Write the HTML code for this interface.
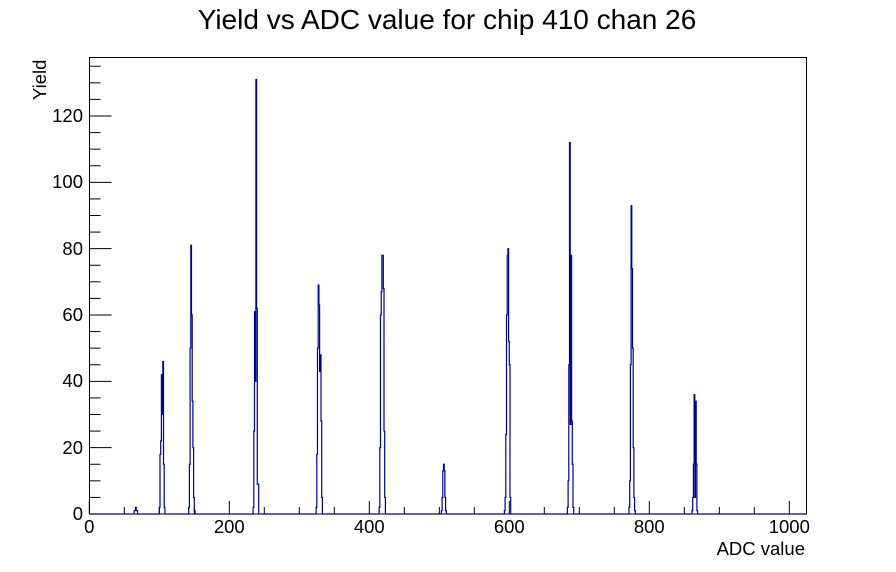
<!DOCTYPE html>
<html><head><meta charset="utf-8"><style>body{margin:0;background:#fff}svg{display:block}text{font-family:"Liberation Sans",sans-serif}</style></head>
<body>
<svg id="s" width="896" height="572" xmlns="http://www.w3.org/2000/svg">
<rect width="896" height="572" fill="#fff"/>
<text x="447" y="29" font-size="28" text-anchor="middle">Yield vs ADC value for chip 410 chan 26</text>
<rect x="89.5" y="57.5" width="717" height="456.5" fill="none" stroke="#000" stroke-width="1"/>
<g id="ticks" stroke="#000" stroke-width="1"></g>
<g font-size="18.5" text-anchor="middle">
<text x="89.3" y="533">0</text><text x="229.3" y="533">200</text><text x="369.3" y="533">400</text>
<text x="509.3" y="533">600</text><text x="649.3" y="533">800</text><text x="789.3" y="533">1000</text>
</g>
<g font-size="18.5" text-anchor="end">
<text x="83" y="520">0</text><text x="83" y="454">20</text><text x="83" y="387">40</text>
<text x="83" y="321">60</text><text x="83" y="255">80</text><text x="83" y="188">100</text><text x="83" y="122">120</text>
</g>
<text x="805" y="555" font-size="18.5" text-anchor="end">ADC value</text>
<text transform="translate(46,100) rotate(-90)" font-size="18.5">Yield</text>
<path id="h" fill="none" stroke="#00009a" stroke-width="1.2"/>
</svg>
<script>
var X=function(v){return 89.3+v*0.7},Y=function(c){return 514-c*3.3167};
var t="";
for(var v=0;v<=1000;v+=50){var L=v%200==0?13:7;t+='<line x1="'+X(v)+'" y1="514" x2="'+X(v)+'" y2="'+(514-L)+'"/>';}
for(var c=0;c<=135;c+=5){var L=c%20==0?22:11;t+='<line x1="89.5" y1="'+Y(c)+'" x2="'+(89.5+L)+'" y2="'+Y(c)+'"/>';}
document.getElementById("ticks").innerHTML=t;
var d={};function P(s,a){for(var i=0;i<a.length;i++)d[s+i]=a[i];}
P(64,[1,1,2,1,1]);
P(100,[2,18,22,42,30,46,15,2]);
P(142,[2,15,50,81,60,34,20,5,1]);
P(234,[2,25,61,40,131,62,9,9]);
P(324,[2,18,50,69,63,43,48,28,5]);
P(414,[2,20,60,67,78,78,68,25,5]);
P(503,[1,5,13,15,13,5,1]);
P(593,[1,5,24,60,78,80,52,45,5]);
P(683,[2,10,45,112,27,78,28,15,2]);
P(771,[2,10,45,93,74,50,20,5,1]);
P(861,[1,5,15,36,5,34,15,1]);
var p="M"+X(0)+","+Y(0);
for(var i=0;i<1024;i++){var c=d[i]||0;p+="L"+X(i)+","+Y(c)+"L"+X(i+1)+","+Y(c);}
p+="L"+X(1024)+","+Y(0);
document.getElementById("h").setAttribute("d",p);
</script>
</body></html>
